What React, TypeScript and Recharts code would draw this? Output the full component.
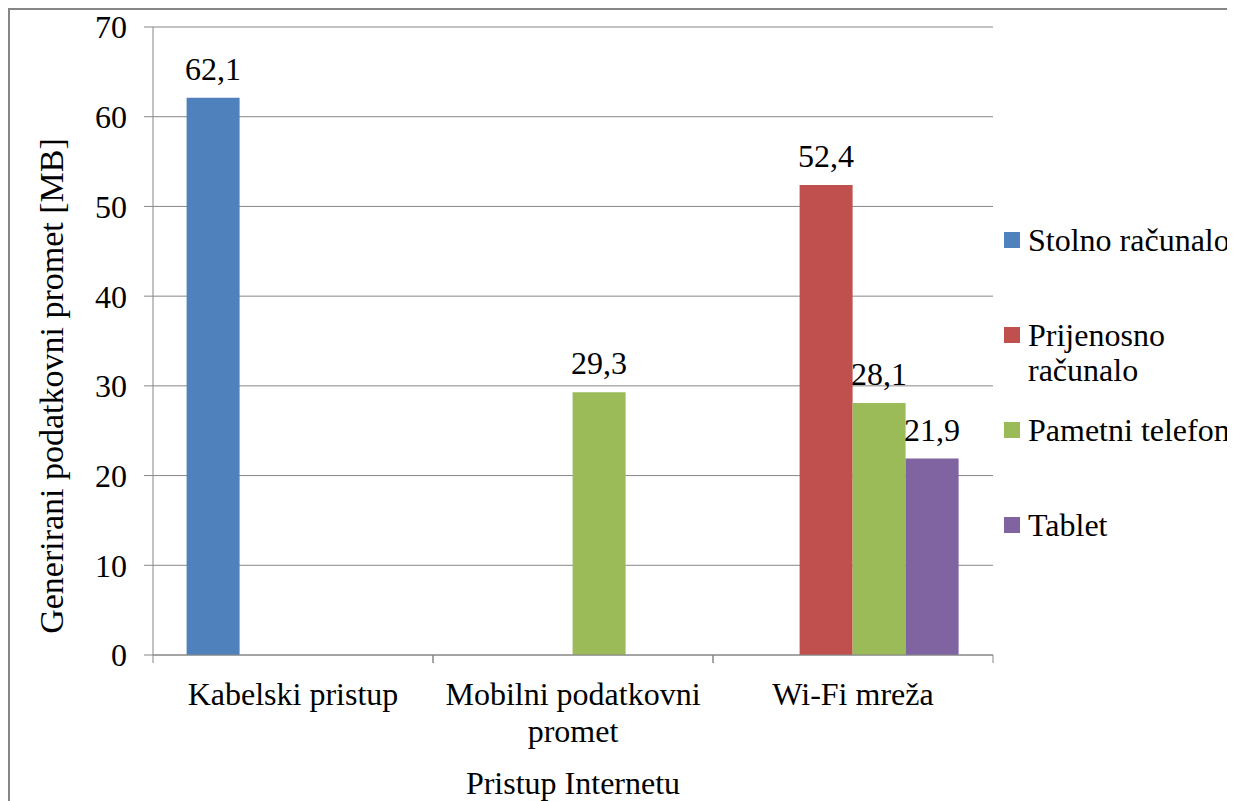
import React from 'react';
import { BarChart, Bar, XAxis, YAxis, CartesianGrid, Legend, LabelList, Label } from 'recharts';

const FONT = '"Liberation Serif", "Times New Roman", serif';
const GREY = '#868686';
const FS = 32;

// categories (line breaks as in the original axis labels)
const categories = ['Kabelski pristup', 'Mobilni podatkovni\npromet', 'Wi-Fi mreža'];

// series values per category (null = no bar)
const stolno = [62.1, null, null];
const prijenosno = [null, null, 52.4];
const pametni = [null, 29.3, 28.1];
const tablet = [null, null, 21.9];

const seriesNames = ['Stolno računalo', 'Prijenosno računalo', 'Pametni telefon', 'Tablet'];
const seriesColors = ['#4F81BD', '#C0504D', '#9BBB59', '#8064A2'];
const seriesValues = [stolno, prijenosno, pametni, tablet];

const yTicks = [0, 10, 20, 30, 40, 50, 60, 70];

const data = categories.map((name, i) => {
  const row: any = { name };
  seriesValues.forEach((vals, s) => {
    row['s' + s] = vals[i];
  });
  return row;
});

const fmt = (v: any) => (v == null ? '' : String(v).replace('.', ','));

const CategoryTick = (props: any) => {
  const { x, y, payload } = props;
  const half = payload && payload.offset ? payload.offset : 140;
  const lines = String(payload.value).split('\n');
  return (
    <g>
      <line x1={x - half} y1={y} x2={x - half} y2={y + 8} stroke={GREY} />
      <line x1={x + half} y1={y} x2={x + half} y2={y + 8} stroke={GREY} />
      {lines.map((l, i) => (
        <text key={i} x={x} y={y + 50 + i * 37} textAnchor="middle" fontFamily={FONT} fontSize={FS} fill="#000">
          {l}
        </text>
      ))}
    </g>
  );
};

const LegendContent = ({ payload }: any) => {
  const items = [...(payload || [])].sort(
    (a: any, b: any) => seriesNames.indexOf(a.value) - seriesNames.indexOf(b.value)
  );
  return (
    <div style={{ fontFamily: FONT, fontSize: FS, lineHeight: '35px', color: '#000' }}>
      {items.map((p: any) => (
        <div key={p.value} style={{ display: 'flex', alignItems: 'flex-start', minHeight: 70, marginBottom: 25 }}>
          <div style={{ width: 16, height: 16, background: p.color, marginTop: 9.5, flexShrink: 0 }} />
          <div style={{ marginLeft: 8, width: 205 }}>{p.value}</div>
        </div>
      ))}
    </div>
  );
};

export default function App() {
  return (
    <div
      style={{
        position: 'relative',
        width: 1227,
        height: 793,
        borderTop: `2px solid ${GREY}`,
        borderLeft: `2px solid ${GREY}`,
        boxSizing: 'border-box',
        background: '#fff',
      }}
    >
      <div style={{ position: 'absolute', left: -2, top: -2 }}>
        <BarChart
          width={1227}
          height={793}
          data={data}
          margin={{ top: 19, right: 242, bottom: 86, left: 85 }}
          barCategoryGap="12%"
          barGap={0}
        >
          <CartesianGrid vertical={false} stroke={GREY} />
          <XAxis
            dataKey="name"
            height={60}
            stroke={GREY}
            tickLine={false}
            tickSize={0}
            tickMargin={0}
            interval={0}
            tick={<CategoryTick />}
          >
            <Label
              content={(p: any) => {
                const vb = p.viewBox || { x: 145, y: 647, width: 840 };
                return (
                  <text x={vb.x + vb.width / 2} y={vb.y + 139} textAnchor="middle" fontFamily={FONT} fontSize={FS} fill="#000">
                    Pristup Internetu
                  </text>
                );
              }}
            />
          </XAxis>
          <YAxis
            width={60}
            domain={[0, 70]}
            ticks={yTicks}
            stroke={GREY}
            tickSize={9}
            tickMargin={17}
            tick={{ fill: '#000', fontFamily: FONT, fontSize: FS }}
          >
            <Label
              content={(p: any) => {
                const vb = p.viewBox || { x: 85, y: 19, height: 628 };
                const bx = vb.x - 30;
                const cy = vb.y + 359;
                return (
                  <text
                    x={bx}
                    y={cy}
                    transform={`rotate(-90 ${bx} ${cy})`}
                    textAnchor="middle"
                    fontFamily={FONT}
                    fontSize={34}
                    fill="#000"
                  >
                    Generirani podatkovni promet [MB]
                  </text>
                );
              }}
            />
          </YAxis>
          <Legend
            layout="vertical"
            align="center"
            verticalAlign="middle"
            wrapperStyle={{ left: 996, top: 214.5, width: 231 }}
            content={<LegendContent />}
          />
          {seriesNames.map((n, s) => (
            <Bar key={n} dataKey={'s' + s} name={n} fill={seriesColors[s]} isAnimationActive={false}>
              <LabelList
                dataKey={'s' + s}
                position="top"
                offset={18}
                formatter={fmt}
                fill="#000"
                fontFamily={FONT}
                fontSize={FS}
              />
            </Bar>
          ))}
        </BarChart>
      </div>
    </div>
  );
}
